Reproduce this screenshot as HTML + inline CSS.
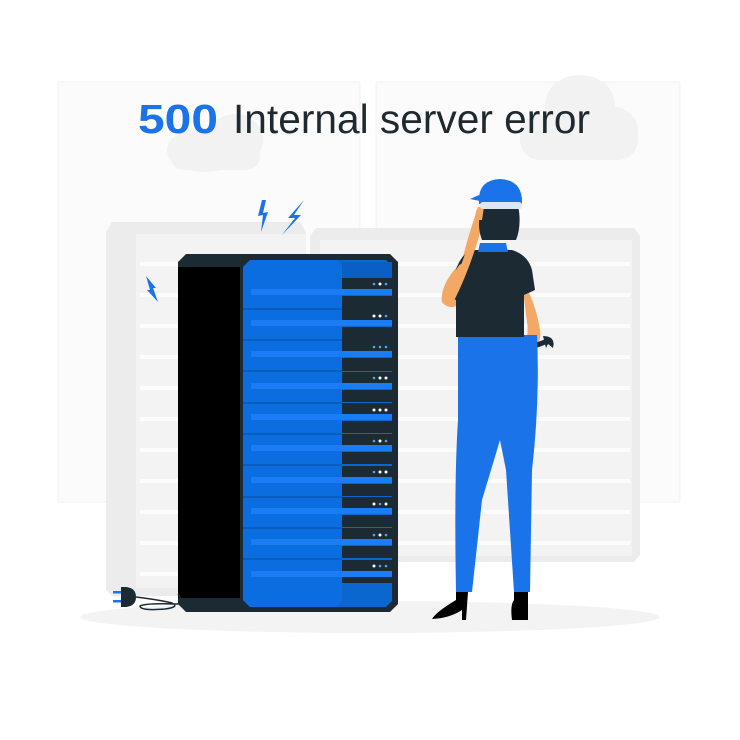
<!DOCTYPE html>
<html><head><meta charset="utf-8"><style>
html,body{margin:0;padding:0;background:#fff;}
svg{display:block;}
</style></head><body>
<svg width="740" height="740" viewBox="0 0 740 740" xmlns="http://www.w3.org/2000/svg">
<rect width="740" height="740" fill="#fff"/>
<rect x="58" y="82" width="302" height="420" fill="#fbfbfb" stroke="#f1f1f1"/>
<rect x="376" y="82" width="304" height="420" fill="#fbfbfb" stroke="#f1f1f1"/>
<g fill="#f2f2f2">
<ellipse cx="205" cy="150" rx="38" ry="22"/><ellipse cx="235" cy="140" rx="28" ry="26"/><rect x="170" y="140" width="90" height="30" rx="14"/>
<ellipse cx="580" cy="105" rx="35" ry="30"/><ellipse cx="610" cy="130" rx="28" ry="24"/><rect x="520" y="115" width="118" height="45" rx="20"/>
</g>
<path d="M106 232 L112 222 H300 L306 232 V590 L300 596 H112 L106 590Z" fill="#ececec"/>
<rect x="136" y="234" width="170" height="354" fill="#f3f3f3"/>
<path d="M310 236 L316 228 H634 L640 236 V555 L634 562 H316 L310 555Z" fill="#ececec"/>
<rect x="320" y="240" width="312" height="316" fill="#f3f3f3"/>
<g fill="#fcfcfc">
<rect x="140" y="262" width="166" height="4"/><rect x="140" y="293" width="166" height="4"/><rect x="140" y="324" width="166" height="4"/><rect x="140" y="355" width="166" height="4"/><rect x="140" y="386" width="166" height="4"/><rect x="140" y="417" width="166" height="4"/><rect x="140" y="448" width="166" height="4"/><rect x="140" y="479" width="166" height="4"/><rect x="140" y="510" width="166" height="4"/><rect x="140" y="541" width="166" height="4"/><rect x="140" y="572" width="166" height="4"/>
<rect x="324" y="262" width="306" height="4"/><rect x="324" y="293" width="306" height="4"/><rect x="324" y="324" width="306" height="4"/><rect x="324" y="355" width="306" height="4"/><rect x="324" y="386" width="306" height="4"/><rect x="324" y="417" width="306" height="4"/><rect x="324" y="448" width="306" height="4"/><rect x="324" y="479" width="306" height="4"/><rect x="324" y="510" width="306" height="4"/><rect x="324" y="541" width="306" height="4"/>
</g>
<ellipse cx="370" cy="617" rx="290" ry="16" fill="#f3f3f3"/>
<text x="138" y="133" font-family="Liberation Sans, sans-serif" font-weight="bold" font-size="41" fill="#1a73e8" textLength="80" lengthAdjust="spacingAndGlyphs">500</text>
<text x="233" y="133" font-family="Liberation Sans, sans-serif" font-size="41" fill="#1f2a30" textLength="357" lengthAdjust="spacingAndGlyphs">Internal server error</text>
<g fill="#1a73e8">
<path d="M262 200 L258 216 L263 215 L261 232 L268 212 L263 213 L266 200Z"/>
<path d="M304 200 L288 218 L295 218 L282 235 L301 215 L294 215Z"/>
<path d="M146 276 L150 290 L147 290 L158 302 L153 288 L156 288Z"/>
</g>
<path d="M186 254 H390 L398 262 V604 L390 612 H186 L178 604 V262Z" fill="#1c2a33"/>
<rect x="178" y="267" width="62" height="331" fill="#000"/>
<path d="M250 260 H386 L392 266 V601 L386 607 H250 L243 600 V267Z" fill="#0b67d0"/>
<path d="M250 260 H336 L342 266 V601 L336 607 H250 L243 600 V267Z" fill="#0b6ee0"/>
<rect x="342" y="262" width="50" height="16" fill="#0b5fc4"/>
<g fill="#1c2a33">
<rect x="342" y="278" width="50" height="11"/><rect x="342" y="296" width="50" height="13"/>
<rect x="342" y="309" width="50" height="11"/><rect x="342" y="327" width="50" height="13"/>
<rect x="342" y="340" width="50" height="11"/><rect x="342" y="358" width="50" height="13"/>
<rect x="342" y="372" width="50" height="11"/><rect x="342" y="390" width="50" height="12"/>
<rect x="342" y="403" width="50" height="11"/><rect x="342" y="421" width="50" height="12"/>
<rect x="342" y="434" width="50" height="11"/><rect x="342" y="452" width="50" height="12"/>
<rect x="342" y="466" width="50" height="11"/><rect x="342" y="484" width="50" height="12"/>
<rect x="342" y="497" width="50" height="11"/><rect x="342" y="515" width="50" height="12"/>
<rect x="342" y="528" width="50" height="11"/><rect x="342" y="546" width="50" height="12"/>
<rect x="342" y="560" width="50" height="11"/><rect x="342" y="577" width="50" height="6"/>
</g>
<g fill="#1a7df5">
<rect x="251" y="289" width="141" height="6"/><rect x="251" y="320" width="141" height="6"/><rect x="251" y="351" width="141" height="6"/><rect x="251" y="383" width="141" height="6"/><rect x="251" y="414" width="141" height="6"/><rect x="251" y="445" width="141" height="6"/><rect x="251" y="477" width="141" height="6"/><rect x="251" y="508" width="141" height="6"/><rect x="251" y="539" width="141" height="6"/><rect x="251" y="571" width="141" height="6"/>
</g>
<g fill="#0a5cbf">
<rect x="243" y="308" width="99" height="2"/><rect x="243" y="339" width="99" height="2"/><rect x="243" y="370" width="99" height="2"/><rect x="243" y="402" width="99" height="2"/><rect x="243" y="433" width="99" height="2"/><rect x="243" y="464" width="99" height="2"/><rect x="243" y="496" width="99" height="2"/><rect x="243" y="527" width="99" height="2"/><rect x="243" y="558" width="99" height="2"/>
</g>
<g fill="#fff">
<circle cx="374" cy="284" r="1.3" fill="#5aa0f0"/><circle cx="380" cy="284" r="1.5"/><circle cx="386" cy="284" r="1.3" fill="#5aa0f0"/>
<circle cx="374" cy="316" r="1.5"/><circle cx="380" cy="316" r="1.5"/><circle cx="386" cy="316" r="1.3" fill="#5aa0f0"/>
<circle cx="374" cy="347" r="1.3" fill="#5aa0f0"/><circle cx="380" cy="347" r="1.3" fill="#5aa0f0"/><circle cx="386" cy="347" r="1.3" fill="#5aa0f0"/>
<circle cx="374" cy="378" r="1.3" fill="#5aa0f0"/><circle cx="380" cy="378" r="1.5"/><circle cx="386" cy="378" r="1.5"/>
<circle cx="374" cy="410" r="1.5"/><circle cx="380" cy="410" r="1.5"/><circle cx="386" cy="410" r="1.5"/>
<circle cx="374" cy="441" r="1.3" fill="#5aa0f0"/><circle cx="380" cy="441" r="1.5"/><circle cx="386" cy="441" r="1.3" fill="#5aa0f0"/>
<circle cx="374" cy="472" r="1.3" fill="#5aa0f0"/><circle cx="380" cy="472" r="1.5"/><circle cx="386" cy="472" r="1.5"/>
<circle cx="374" cy="504" r="1.5"/><circle cx="380" cy="504" r="1.3" fill="#5aa0f0"/><circle cx="386" cy="504" r="1.5"/>
<circle cx="374" cy="535" r="1.3" fill="#5aa0f0"/><circle cx="380" cy="535" r="1.5"/><circle cx="386" cy="535" r="1.3" fill="#5aa0f0"/>
<circle cx="374" cy="566" r="1.5"/><circle cx="380" cy="566" r="1.3" fill="#5aa0f0"/><circle cx="386" cy="566" r="1.3" fill="#5aa0f0"/>
</g>
<g>
<rect x="113" y="591" width="8" height="2.5" fill="#1a73e8"/><rect x="113" y="600" width="8" height="2.5" fill="#1a73e8"/>
<path d="M121 587 H126 Q136 588 136 597 Q136 606 126 607 H121Z" fill="#1c2a33"/>
<path d="M136 597 Q160 600 172 603 Q180 607 165 609 Q140 611 140 606 Q145 603 178 604 Q182 598 178 594" fill="none" stroke="#1c2a33" stroke-width="1.5"/>
</g>
<g>
<path d="M522 280 Q535 300 540 330 Q542 345 530 352 L524 346 Q530 335 526 315 Z" fill="#f3a866"/>
<path d="M524 350 L545 342" stroke="#1c2a33" stroke-width="5" stroke-linecap="round"/>
<path d="M543 336 Q556 336 553 348 L548 344 L546 348 Z" fill="#1c2a33"/>
<path d="M458 335 H537 Q540 400 532 470 L530 592 H514 L506 470 L500 440 L482 500 L472 592 H456 Q454 480 458 420 Z" fill="#1a73e8"/>
<path d="M456 592 H468 L466 620 H462 L462 610 Q450 618 432 619 Q436 612 456 600Z" fill="#000"/>
<path d="M514 592 H528 L528 620 H512 Q510 605 514 600Z" fill="#000"/>
<path d="M462 268 Q446 285 446 300 Q452 306 460 298 Q462 270 480 215" fill="none" stroke="#f3a866" stroke-width="9" stroke-linecap="round" stroke-linejoin="round"/>
<path d="M470 250 H512 Q528 255 532 270 L535 290 L524 295 L524 337 H456 L456 300 L452 298 Q452 262 470 250Z" fill="#1c2a33"/>
<path d="M462 268 Q450 285 450 300" fill="none" stroke="#f3a866" stroke-width="8" stroke-linecap="round"/>
<path d="M450 300 Q470 260 480 216" fill="none" stroke="#f3a866" stroke-width="8" stroke-linecap="round"/>
<path d="M480 243 H506 L508 252 H478Z" fill="#1a73e8"/>
<path d="M482 205 H518 Q522 225 516 240 H482 Q476 225 482 205Z" fill="#1c2a33"/>
<path d="M478 207 L484 207 L482 220 L476 220 Q474 214 478 207Z" fill="#f3a866"/>
<path d="M479 204 Q477 180 500 179 Q523 180 522 204 Z" fill="#1a73e8"/>
<path d="M479 195 L470 199 L480 201Z" fill="#1a73e8"/>
<rect x="480" y="202" width="42" height="7" rx="3" fill="#dce6f5"/>
</g>
</svg>
</body></html>
